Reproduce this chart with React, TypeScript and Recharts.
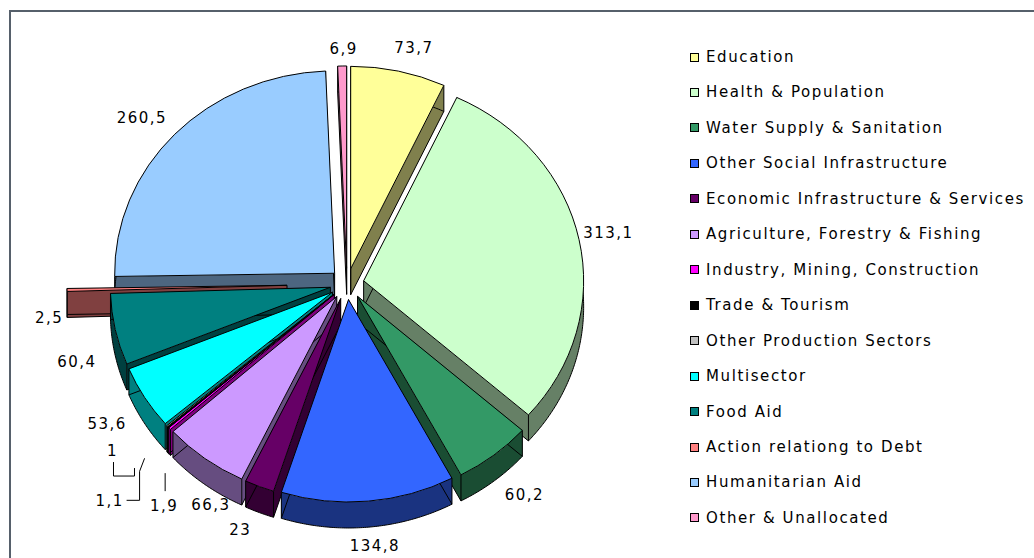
import React from 'react';
import { PieChart, Pie, Cell, Legend } from 'recharts';

const categories = [
  'Education',
  'Health & Population',
  'Water Supply & Sanitation',
  'Other Social Infrastructure',
  'Economic Infrastructure & Services',
  'Agriculture, Forestry & Fishing',
  'Industry, Mining, Construction',
  'Trade & Tourism',
  'Other Production Sectors',
  'Multisector',
  'Food Aid',
  'Action relationg to Debt',
  'Humanitarian Aid',
  'Other & Unallocated',
];
const values = [73.7, 313.1, 60.2, 134.8, 23, 66.3, 1.9, 1.1, 1, 53.6, 60.4, 2.5, 260.5, 6.9];
const colors = ['#FFFF99', '#CCFFCC', '#339966', '#3366FF', '#660066', '#CC99FF', '#FF00FF', '#000000', '#C0C0C0', '#00FFFF', '#008080', '#FF8080', '#99CCFF', '#FF99CC'];
const sideColors = ['#80804D', '#668066', '#1A4D33', '#1A3380', '#330033', '#664D80', '#800080', '#000000', '#606060', '#008080', '#004040', '#804040', '#4D6680', '#804D66'];

// styling of the 3D look
const explode = [17, 17, 17, 17, 17, 17, 17, 17, 17, 17, 17, 60, 17, 17];
const labelNudge = [[9, 4], [0, -1], [12, -2], [4, -9], [-8, -6], [24, 4], [17, 42], [-36, 39], [-32, -10], [-12, -2], [-9, 21], [12, 27], [-11, 3], [2, 11]];
const leaders: Record<number, number[][]> = {
  6: [[1, -15], [1, -33]],
  7: [[17, -1], [30, -1], [30, -30], [35, -43]],
  8: [[1, 11], [1, 25], [22, 25], [22, 17]],
};

const data = categories.map((name, i) => ({ name, value: values[i] }));
const reversedData = [...data].reverse();

const CX = 342;
const CY = 279;
const R = 220;
const TILT = 0.92;
const DEPTH = 26;
const LABEL_R = 250;
const RAD = Math.PI / 180;
const FONT = '"DejaVu Sans", Verdana, sans-serif';

function geom(p: any) {
  const name = p.name ?? (p.payload && p.payload.name);
  const idx = categories.indexOf(name);
  const e = explode[idx] ?? 17;
  const m = p.midAngle * RAD;
  const ax = p.cx + e * Math.cos(m);
  const ay = p.cy - e * TILT * Math.sin(m);
  const r = p.outerRadius;
  const pt = (deg: number, dy = 0): [number, number] => [ax + r * Math.cos(deg * RAD), ay - r * TILT * Math.sin(deg * RAD) + dy];
  const a0 = Math.min(p.startAngle, p.endAngle);
  const a1 = Math.max(p.startAngle, p.endAngle);
  return { idx, ax, ay, r, pt, a0, a1 };
}

function arcPoints(pt: (d: number, dy?: number) => [number, number], from: number, to: number, dy: number) {
  const n = Math.max(2, Math.ceil(Math.abs(to - from) / 0.5));
  const res: [number, number][] = [];
  for (let i = 0; i <= n; i++) res.push(pt(from + ((to - from) * i) / n, dy));
  return res;
}

const f = (q: number[]) => `${q[0].toFixed(2)},${q[1].toFixed(2)}`;

function TopShape(p: any) {
  const g = geom(p);
  if (g.idx < 0) return <g />;
  const c1 = g.pt(g.a1);
  const c0 = g.pt(g.a0);
  const large = g.a1 - g.a0 > 180 ? 1 : 0;
  const d = `M${f([g.ax, g.ay])} L${f(c1)} A${g.r},${g.r * TILT} 0 ${large} 1 ${f(c0)} Z`;
  return <path d={d} fill={colors[g.idx]} stroke="#000" strokeWidth={1} strokeLinejoin="round" />;
}

function makeSideShape(side: 'left' | 'right') {
  return function SideShape(p: any) {
    const g = geom(p);
    if (g.idx < 0) return <g />;
    const isLeft = Math.cos(p.midAngle * RAD) < 0;
    if ((side === 'left') !== isLeft) return <g />;
    const fill = sideColors[g.idx];
    const apex: [number, number] = [g.ax, g.ay];
    const c0 = g.pt(g.a0);
    const c1 = g.pt(g.a1);
    const quad = (q: [number, number]) =>
      `M${f(apex)} L${f(q)} L${f([q[0], q[1] + DEPTH])} L${f([apex[0], apex[1] + DEPTH])} Z`;
    const n = Math.max(2, Math.ceil((g.a1 - g.a0) / 0.5));
    const runs: number[][] = [];
    let cur: number[] = [];
    for (let i = 0; i <= n; i++) {
      const a = g.a0 + ((g.a1 - g.a0) * i) / n;
      if (Math.sin(a * RAD) <= 0.001) cur.push(a);
      else {
        if (cur.length) runs.push(cur);
        cur = [];
      }
    }
    if (cur.length) runs.push(cur);
    const bands = runs
      .filter((run) => run.length > 1)
      .map((run) => {
        const top = run.map((a) => g.pt(a));
        const bot = run.map((a) => g.pt(a, DEPTH)).reverse();
        return 'M' + [...top, ...bot].map(f).join(' L') + ' Z';
      });
    const bottomArc = arcPoints(g.pt, g.a0, g.a1, DEPTH);
    const outline =
      `M${f([apex[0], apex[1] + DEPTH])} L` + bottomArc.map(f).join(' L') + ' Z' +
      ` M${f(c0)} L${f([c0[0], c0[1] + DEPTH])}` +
      ` M${f(c1)} L${f([c1[0], c1[1] + DEPTH])}` +
      ` M${f(apex)} L${f([apex[0], apex[1] + DEPTH])}`;
    return (
      <g>
        <path d={quad(c0)} fill={fill} stroke="none" />
        <path d={quad(c1)} fill={fill} stroke="none" />
        {bands.map((b, i) => (
          <path key={i} d={b} fill={fill} stroke="none" />
        ))}
        <path d={outline} fill="none" stroke="#000" strokeWidth={1} strokeLinejoin="round" />
      </g>
    );
  };
}

const LeftSide = makeSideShape('left');
const RightSide = makeSideShape('right');

function renderLabel(p: any) {
  const g = geom(p);
  if (g.idx < 0) return null;
  const m = p.midAngle * RAD;
  const x = g.ax + LABEL_R * Math.cos(m) + labelNudge[g.idx][0];
  const y = g.ay - LABEL_R * TILT * Math.sin(m) + DEPTH * Math.max(0, -Math.sin(m)) + labelNudge[g.idx][1];
  const text = String(values[g.idx]).replace('.', ',');
  const leader = leaders[g.idx];
  return (
    <g key={`lbl-${g.idx}`}>
      {leader && (
        <polyline
          points={leader.map(([dx, dy]) => `${x + dx},${y + dy}`).join(' ')}
          fill="none"
          stroke="#000"
          strokeWidth={1}
        />
      )}
      <text
        x={x}
        y={y}
        textAnchor="middle"
        dominantBaseline="central"
        fill="#000"
        stroke="none"
        style={{ fontFamily: FONT, fontSize: 15, letterSpacing: 1.45 }}
      >
        {text}
      </text>
    </g>
  );
}

function LegendContent() {
  return (
    <div style={{ fontFamily: FONT, fontSize: 15, letterSpacing: 1.6, color: '#000' }}>
      {categories.map((name, i) => (
        <div key={name} style={{ height: 35.46, display: 'flex', alignItems: 'center', whiteSpace: 'nowrap' }}>
          <span
            style={{
              display: 'inline-block',
              width: 7,
              height: 7,
              border: '1px solid #000',
              background: colors[i],
              marginRight: 7,
              flex: 'none',
            }}
          />
          <span>{name}</span>
        </div>
      ))}
    </div>
  );
}

export default function App() {
  return (
    <div style={{ position: 'absolute', left: 0, top: 0, width: 1034, height: 558, overflow: 'hidden', background: '#fff' }}>
      <div
        style={{
          position: 'absolute',
          left: 9,
          top: 10,
          width: 1100,
          height: 620,
          borderLeft: '2px solid #56606b',
          borderTop: '2px solid #56606b',
        }}
      />
      <div style={{ position: 'absolute', left: 0, top: 0 }}>
        <PieChart width={1034} height={558}>
          <Pie
            data={reversedData}
            dataKey="value"
            nameKey="name"
            cx={CX}
            cy={CY}
            outerRadius={R}
            startAngle={90}
            endAngle={450}
            isAnimationActive={false}
            legendType="none"
            shape={LeftSide}
            stroke="none"
          >
            {reversedData.map((d) => (
              <Cell key={d.name} fill={sideColors[categories.indexOf(d.name)]} />
            ))}
          </Pie>
          <Pie
            data={data}
            dataKey="value"
            nameKey="name"
            cx={CX}
            cy={CY}
            outerRadius={R}
            startAngle={90}
            endAngle={-270}
            isAnimationActive={false}
            legendType="none"
            shape={RightSide}
            stroke="none"
          >
            {data.map((d, i) => (
              <Cell key={d.name} fill={sideColors[i]} />
            ))}
          </Pie>
          <Pie
            data={data}
            dataKey="value"
            nameKey="name"
            cx={CX}
            cy={CY}
            outerRadius={R}
            startAngle={90}
            endAngle={-270}
            isAnimationActive={false}
            shape={TopShape}
            label={renderLabel}
            labelLine={false}
            stroke="#000"
          >
            {data.map((d, i) => (
              <Cell key={d.name} fill={colors[i]} />
            ))}
          </Pie>
          <Legend
            layout="vertical"
            align="right"
            verticalAlign="top"
            content={<LegendContent />}
            wrapperStyle={{ position: 'absolute', left: 690, top: 39.3, width: 340 }}
          />
        </PieChart>
      </div>
    </div>
  );
}
